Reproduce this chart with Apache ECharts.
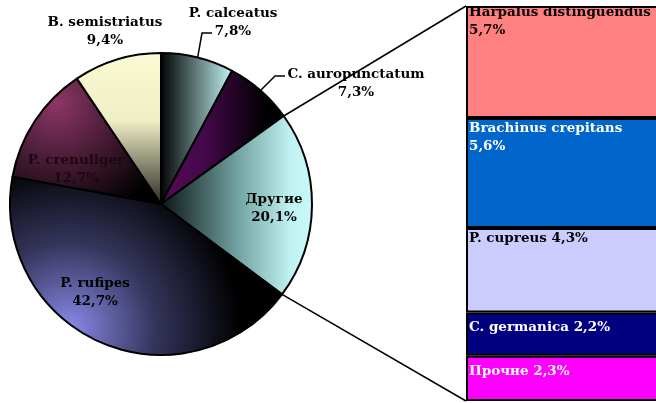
<!DOCTYPE html>
<html><head><meta charset="utf-8">
<script src="https://cdn.jsdelivr.net/npm/echarts@6/dist/echarts.min.js"></script>
<style>html,body{margin:0;padding:0;background:#fff}#c{width:656px;height:403px}</style>
</head><body><div id="c"></div><script>
// ---- data ----
const pieNames = ['P. calceatus', 'C. auropunctatum', 'Другие', 'P. rufipes', 'P. crenuliger', 'B. semistriatus'];
const pieValues = [7.8, 7.3, 20.1, 42.7, 12.7, 9.4];
const barNames = ['Прочне', 'C. germanica', 'P. cupreus', 'Brachinus crepitans', 'Harpalus distinguendus']; // bottom -> top
const barValues = [2.3, 2.2, 4.3, 5.6, 5.7];

// ---- layout / style ----
const CX = 161, CY = 204, R = 151;
const GRID_LEFT = 466, GRID_TOP = 6, GRID_BOTTOM = 2;
const FONT = 'DejaVu Serif';
const FS = 13.5;
const pieLabelPos = [[233, 22], [356, 83], [274, 208], [95, 292], [76, 169], [105, 31]];
const pieLeader = [[[202, 33], [212, 33]], [[275, 76], [285, 76]], null, null, null, null];
const pieOutside = [true, true, false, false, false, true];
const pieLabelColor = ['#000', '#000', '#000', '#000', '#1e0810', '#000'];
const barColors = ['#ff00ff', '#000080', '#ccccff', '#0066cc', '#ff8080'];
const barLabelColors = ['#fff', '#fff', '#000', '#fff', '#000'];
const barTwoLines = [false, false, false, true, true];
const barLabelShift = [6, 5, 0, 0, -4];

function lin(x, y, x2, y2, stops) {
  return new echarts.graphic.LinearGradient(x, y, x2, y2, stops.map(s => ({offset: s[0], color: s[1]})));
}
function rad(x, y, r, stops) {
  return new echarts.graphic.RadialGradient(x, y, r, stops.map(s => ({offset: s[0], color: s[1]})));
}
const pieFills = [
  lin(0, 0, 1, 0, [[0, '#000'], [1, '#c4f6f6']]),
  lin(0, 0, 1, 0, [[0, '#560a56'], [0.35, '#45084a'], [0.85, '#000'], [1, '#000']]),
  lin(0, 0, 1, 0, [[0, '#0a1412'], [0.5, '#70a0a0'], [0.85, '#c0f2f2'], [1, '#c8fafa']]),
  rad(0.22, 0.85, 0.95, [[0, '#8a8aea'], [0.5, '#35355c'], [1, '#000']]),
  rad(0.3, 0.2, 0.95, [[0, '#8c3666'], [1, '#000']]),
  lin(0, 0, 0, 1, [[0, '#fcfcd4'], [0.45, '#eeeec6'], [1, '#2a2a20']])
];

const fmt = v => v.toFixed(1).replace('.', ',') + '%';
const pieTotal = pieValues.reduce((a, b) => a + b, 0);
const barTotal = barValues.reduce((a, b) => a + b, 0);

// mid angles (deg, clockwise from top)
const midAng = [];
(function () { let c = 0; pieValues.forEach(v => { const a = v / pieTotal * 360; midAng.push(c + a / 2); c += a; }); })();

const chart = echarts.init(document.getElementById('c'), null, {renderer: 'canvas'});

const pieData = pieNames.map((n, i) => ({
  name: n, value: pieValues[i],
  itemStyle: {color: pieFills[i]},
  label: {position: pieOutside[i] ? 'outside' : 'inside', color: pieLabelColor[i]},
  labelLine: {show: !!pieLeader[i]}
}));

const barSeries = barNames.map((n, i) => ({
  type: 'bar', stack: 'a', name: n, barWidth: '100%', data: [barValues[i]],
  itemStyle: {color: barColors[i], borderColor: '#000', borderWidth: 2},
  label: {
    show: true, position: 'insideTopLeft', distance: 0, padding: [1, 0, 0, 3],
    offset: [0, barLabelShift[i]],
    color: barLabelColors[i], fontFamily: FONT, fontWeight: 'bold', fontSize: FS, lineHeight: 18,
    formatter: () => barTwoLines[i] ? n + '\n' + fmt(barValues[i]) : n + ' ' + fmt(barValues[i])
  },
  silent: true, animation: false
}));

chart.setOption({
  animation: false,
  backgroundColor: '#fff',
  grid: {left: GRID_LEFT, top: GRID_TOP, bottom: GRID_BOTTOM, width: 260, containLabel: false, outerBoundsMode: 'none'},
  xAxis: {type: 'category', data: [''], show: false},
  yAxis: {type: 'value', min: 0, max: barTotal, show: false},
  series: [{
    type: 'pie', center: [CX, CY], radius: R, startAngle: 90, clockwise: true,
    avoidLabelOverlap: false, silent: true, animation: false,
    itemStyle: {borderColor: '#000', borderWidth: 2},
    label: {show: true, fontFamily: FONT, fontWeight: 'bold', fontSize: FS, lineHeight: 18,
      align: 'center', formatter: p => p.name + '\n' + fmt(p.value)},
    labelLine: {show: true, length: 15, length2: 10, lineStyle: {color: '#000', width: 1.5}},
    labelLayout: function (p) {
      const i = p.dataIndex;
      const out = {x: pieLabelPos[i][0], y: pieLabelPos[i][1], align: 'center', verticalAlign: 'middle', hideOverlap: false};
      if (pieLeader[i]) {
        const a = midAng[i] * Math.PI / 180;
        const p0 = [CX + R * Math.sin(a), CY - R * Math.cos(a)];
        out.labelLinePoints = [p0, pieLeader[i][0], pieLeader[i][1]];
      }
      return out;
    },
    data: pieData
  }].concat(barSeries)
});

// connector lines between the "Другие" slice and the bar
(function () {
  const idx = pieNames.indexOf('Другие');
  let s = 0; for (let k = 0; k < idx; k++) s += pieValues[k];
  const a0 = s / pieTotal * 2 * Math.PI, a1 = (s + pieValues[idx]) / pieTotal * 2 * Math.PI;
  const pA = [CX + R * Math.sin(a0), CY - R * Math.cos(a0)];
  const pB = [CX + R * Math.sin(a1), CY - R * Math.cos(a1)];
  const yTop = chart.convertToPixel({yAxisIndex: 0}, barTotal);
  const yBot = chart.convertToPixel({yAxisIndex: 0}, 0);
  chart.setOption({graphic: [
    {type: 'line', shape: {x1: pA[0], y1: pA[1], x2: GRID_LEFT, y2: yTop}, style: {stroke: '#000', lineWidth: 1.5}, silent: true, z: 10},
    {type: 'line', shape: {x1: pB[0], y1: pB[1], x2: GRID_LEFT, y2: yBot}, style: {stroke: '#000', lineWidth: 1.5}, silent: true, z: 10}
  ]});
})();
</script></body></html>
